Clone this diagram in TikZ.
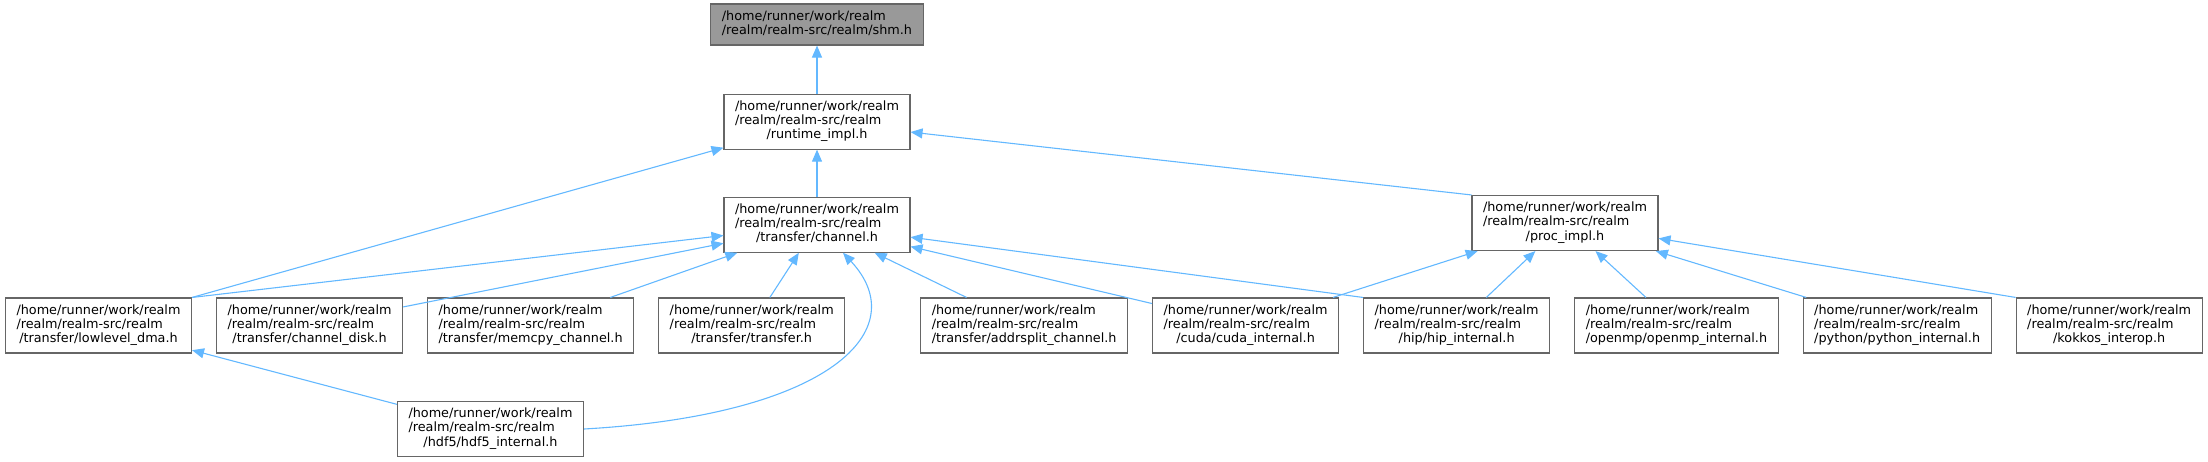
\documentclass[tikz,border=0pt]{standalone}
\usepackage{fontspec}
\setmainfont{DejaVu Sans}
\usetikzlibrary{arrows.meta,positioning}
\definecolor{dxEdge}{HTML}{63b8ff}
\definecolor{dxLine}{HTML}{666666}
\definecolor{dxRoot}{HTML}{999999}
\tikzset{
  >={Triangle[length=12pt,width=10pt]},
  file/.style={draw=dxLine, line width=1.1pt, fill=white, inner xsep=11pt,
              inner ysep=0pt, minimum height=55pt,
              font=\fontsize{12.8}{14.3}\selectfont},
  root/.style={file, fill=dxRoot, minimum height=41pt},
  incl/.style={->, draw=dxEdge, line width=1.1pt},
}
\newcommand{\rpath}[1]{\begin{tabular}{@{}l@{}}/home/runner/work/realm\\/realm/realm-src/realm\\\multicolumn{1}{@{}c@{}}{#1}\end{tabular}}

\begin{document}
\begin{tikzpicture}[x=1pt,y=-1pt,node distance=47pt and 24pt]
    \useasboundingbox (0,0) rectangle (2208,461);
    \node[root] (shm) at (817,24.5)
         {\begin{tabular}{@{}l@{}}/home/runner/work/realm\\/realm/realm-src/realm/shm.h\end{tabular}};
    \node[file,below=48pt of shm] (runtime) {\rpath{/runtime\_impl.h}};
    \node[file,below=of runtime] (channel) {\rpath{/transfer/channel.h}};
    \node[file] (proc) at (1565,223) {\rpath{/proc\_impl.h}};
    \node[file] (lldma) at (98.5,325.5) {\rpath{/transfer/lowlevel\_dma.h}};
    \node[file,right=of lldma] (chdisk) {\rpath{/transfer/channel\_disk.h}};
    \node[file,right=of chdisk] (memcpy) {\rpath{/transfer/memcpy\_channel.h}};
    \node[file,right=of memcpy] (xfer) {\rpath{/transfer/transfer.h}};
    \node[file,right=75pt of xfer] (addrsplit) {\rpath{/transfer/addrsplit\_channel.h}};
    \node[file,right=of addrsplit] (cuda) {\rpath{/cuda/cuda\_internal.h}};
    \node[file,right=of cuda] (hip) {\rpath{/hip/hip\_internal.h}};
    \node[file,right=of hip] (openmp) {\rpath{/openmp/openmp\_internal.h}};
    \node[file,right=of openmp] (python) {\rpath{/python/python\_internal.h}};
    \node[file,right=of python] (kokkos) {\rpath{/kokkos\_interop.h}};
    \node[file] (hdf) at (490.5,429) {\rpath{/hdf5/hdf5\_internal.h}};
    \draw[incl](runtime)--(shm);\draw[incl](channel)--(runtime);
    \draw[incl](lldma.north east)--(runtime);\draw[incl](proc.north west)--(runtime);
    \draw[incl](lldma.north east)--(channel);\draw[incl](chdisk)--(channel);
    \draw[incl](memcpy)--(channel);\draw[incl](xfer)--(channel);
    \draw[incl](addrsplit)--(channel);\draw[incl](cuda)--(channel);
    \draw[incl](hip.north west)--(channel);
    \draw[incl](hdf.east) .. controls (830,415) and (915,330) .. ([xshift=26pt]channel.south);
    \draw[incl](hdf)--(lldma);
    \draw[incl](cuda)--(proc);\draw[incl](hip)--(proc);\draw[incl](openmp)--(proc);
    \draw[incl](python)--(proc);\draw[incl](kokkos.north west)--(proc);
  \end{tikzpicture}
\end{document}
